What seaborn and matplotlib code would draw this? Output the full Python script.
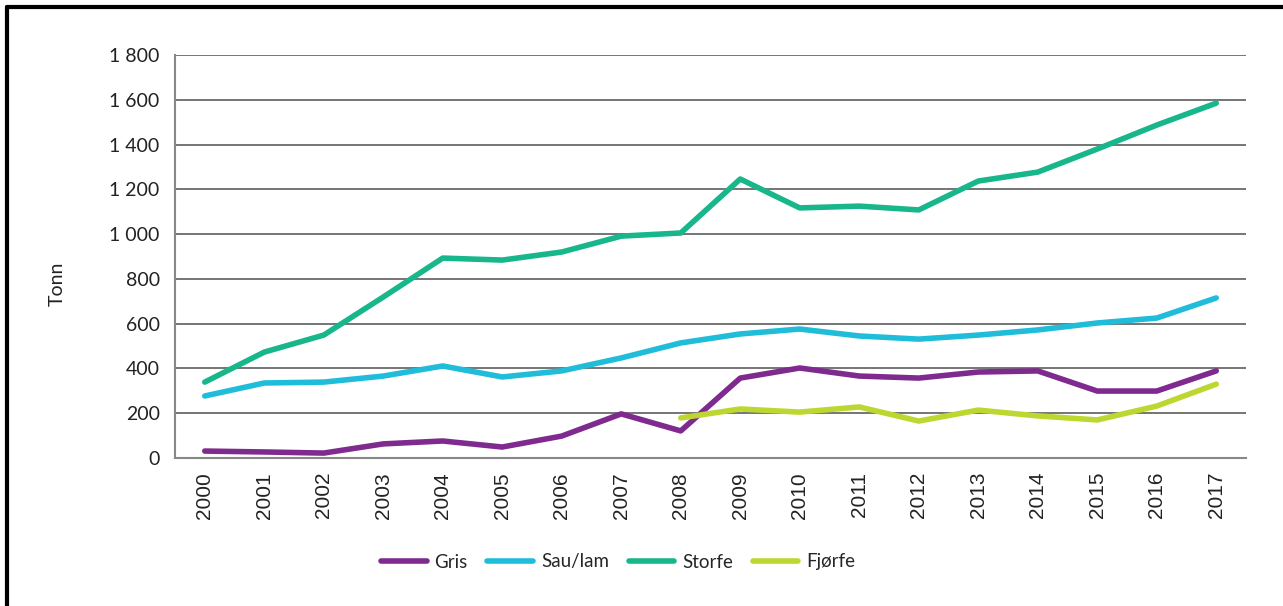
import numpy as np
import pandas as pd
import matplotlib.pyplot as plt
import seaborn as sns
from matplotlib.lines import Line2D
from matplotlib.ticker import FuncFormatter

# Data (tonn)
years = [str(y) for y in range(2000, 2018)]
gris = [31, 27, 22, 63, 76, 49, 98, 197, 121, 357, 402, 366, 357, 384, 389, 299, 299, 389]
sau_lam = [277, 335, 339, 366, 411, 362, 389, 447, 514, 554, 576, 545, 531, 549, 572, 603, 625, 715]
storfe = [339, 473, 549, 719, 893, 884, 920, 991, 1005, 1246, 1117, 1125, 1108, 1237, 1277, 1380, 1487, 1585]
fjorfe = [np.nan] * 8 + [179, 219, 205, 228, 165, 214, 188, 170, 232, 330]

series_names = ["Gris", "Sau/lam", "Storfe", "Fjørfe"]
colors = ["#7e2a8e", "#1fbdd9", "#17b68b", "#bed730"]

df = pd.DataFrame({"year": years, "Gris": gris, "Sau/lam": sau_lam,
                   "Storfe": storfe, "Fjørfe": fjorfe})
df["pos"] = range(len(years))
long_df = df.melt(id_vars=["year", "pos"], value_vars=series_names,
                  var_name="serie", value_name="tonn")

sns.set_style("white")
plt.rcParams["font.family"] = ["Lato", "DejaVu Sans"]

W, H = 1283, 606
fig = plt.figure(figsize=(W / 100, H / 100), dpi=100)
ax = fig.add_axes([175 / W, (H - 458) / H, (1246 - 175) / W, (458 - 55) / H])

sns.lineplot(data=long_df, x="pos", y="tonn", hue="serie", hue_order=series_names,
             palette=colors, linewidth=4, solid_capstyle="round", ax=ax, legend=False)

ax.set_xlim(-0.5, len(years) - 0.5)
ax.set_ylim(0, 1800)
ax.set_yticks(range(0, 1801, 200))
ax.yaxis.set_major_formatter(FuncFormatter(lambda v, p: f"{int(v):,}".replace(",", " ")))
ax.yaxis.grid(True, color="#505050", linewidth=1.1)
ax.set_axisbelow(True)

# ticks at category borders, labels at centres
ax.set_xticks(np.arange(-0.5, len(years), 1.0))
ax.set_xticklabels([])
ax.set_xticks(range(len(years)), minor=True)
ax.set_xticklabels(years, minor=True, rotation=90, fontsize=15, family="Liberation Sans",
                   color="#222222")
ax.tick_params(axis="x", which="major", length=8, width=1.3, color="#888888", direction="out")
ax.tick_params(axis="x", which="minor", length=0, pad=10)
ax.tick_params(axis="y", length=6, width=1.3, color="#888888", direction="out",
               labelsize=14, labelcolor="#222222", pad=5)
ax.set_xlabel("")
ax.set_ylabel("")

for s in ["top", "right"]:
    ax.spines[s].set_visible(False)
for s in ["left", "bottom"]:
    ax.spines[s].set_color("#888888")
    ax.spines[s].set_linewidth(1.5)

fig.text(57 / W, 1 - 284 / H, "Tonn", rotation=90, ha="center", va="center",
         fontsize=14, color="#222222")

handles = [Line2D([], [], color=c, linewidth=4, solid_capstyle="round") for c in colors]
fig.legend(handles, series_names, loc="center", bbox_to_anchor=(618 / W, 1 - 562 / H),
           ncol=4, frameon=False, fontsize=13.5, handlelength=2.45, handletextpad=0.4,
           columnspacing=1.05)

# partial frame (top and left) as in the source
fig.add_artist(Line2D([7 / W, 7 / W], [0, 1 - 7 / H], color="black", linewidth=3))
fig.add_artist(Line2D([7 / W, 1], [1 - 7 / H, 1 - 7 / H], color="black", linewidth=3))

fig.savefig("out.png", dpi=100)
